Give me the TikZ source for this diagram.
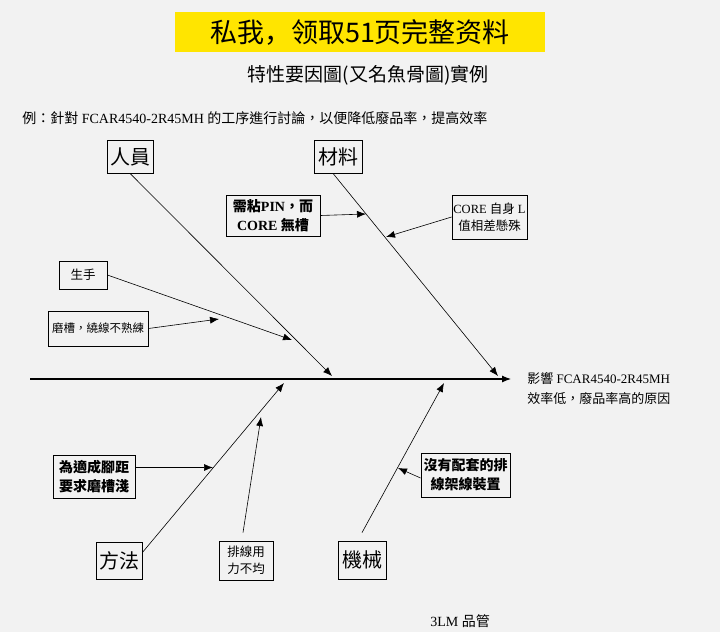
\documentclass[tikz,border=0pt]{standalone}
\usepackage{fontspec}
\setmainfont{Liberation Serif}
\newfontfamily\zh{Noto Sans CJK TC}
\newfontfamily\zhs{Noto Sans CJK SC}
\usepackage{tikz}
\usetikzlibrary{arrows.meta}
\definecolor{paper}{RGB}{242,242,242}
\definecolor{banner}{RGB}{255,229,0}

\begin{document}
\begin{tikzpicture}[x=1pt,y=-1pt,line width=0.6pt,
  bone/.style={-{Latex[length=9pt,width=7pt]}},
  catbox/.style={draw,line width=0.8pt,inner sep=0pt,font=\zh\fontsize{20}{22}\selectfont},
  causebox/.style={draw,line width=0.8pt,inner sep=0pt,align=center,font=\zh\fontsize{12.5}{17}\selectfont},
  boldbox/.style={causebox,font=\bfseries\fontsize{14}{19}\selectfont}]

\fill[paper] (0,0) rectangle (720,632);
\useasboundingbox (0,0) rectangle (720,632);

\node[fill=banner,minimum width=370pt,minimum height=40pt,font=\zhs\fontsize{27}{30}\selectfont] (ad) at (360,32) {私我，领取51页完整资料};
\node[font=\zh\fontsize{19}{22}\selectfont] (title) at (368,75) {特性要因圖(又名魚骨圖)實例};
\node[anchor=west,inner sep=0pt,font=\fontsize{14}{16}\selectfont] (task) at (22,118) {{\zh 例：針對} FCAR4540-2R45MH {\zh 的工序進行討論，以便降低廢品率，提高效率}};

%spine
\coordinate (tail) at (30,379);
\coordinate (head) at (511,379);
\draw[bone,line width=1.1pt] (tail) -- (head);
\node[anchor=west,align=left,inner sep=0pt,font=\fontsize{13}{20}\selectfont] (eff) at (527,389) {{\zh 影響} FCAR4540-2R45MH\\{\zh 效率低，廢品率高的原因}};

%categories
\node[catbox,minimum width=46pt,minimum height=33pt] (ry) at (130,156.5) {人員};
\node[catbox,minimum width=48pt,minimum height=33pt] (cl) at (338,156.5) {材料};
\node[catbox,minimum width=46pt,minimum height=37pt] (ff) at (119,560.5) {方法};
\node[catbox,minimum width=48pt,minimum height=38pt] (jx) at (362,560) {機械};

\coordinate (ryend) at (332,376);
\coordinate (clend) at (498,376);
\coordinate (ffend) at (284,383);
\coordinate (jxend) at (444,383);
\draw[bone] (ry.south) -- (ryend);
\draw[bone] ([xshift=-5pt]cl.south) -- (clend);
\draw[bone] ([yshift=8pt]ff.east) -- (ffend);
\draw[bone] ([yshift=8pt]jx.north) -- (jxend);

%causes
\node[boldbox,minimum width=94pt,minimum height=41pt] (need) at (273,215.5) {{\zh 需粘}PIN{\zh ，而}\\CORE {\zh 無槽}};
\node[causebox,minimum width=75pt,minimum height=44pt,font=\fontsize{12.5}{17}\selectfont] (core) at (489.5,217) {CORE {\zh 自身} L\\{\zh 值相差懸殊}};
\node[causebox,minimum width=48pt,minimum height=28pt] (ss) at (83,275) {生手};
\node[causebox,minimum width=100pt,minimum height=35pt,font=\zh\fontsize{11.5}{15}\selectfont] (mc) at (98,328.5) {磨槽，繞線不熟練};
\node[boldbox,minimum width=82pt,minimum height=43pt,font=\zh\bfseries\fontsize{14}{19}\selectfont] (ws) at (94,476.5) {為適成腳距\\要求磨槽淺};
\node[causebox,minimum width=54pt,minimum height=39pt] (px) at (246,560.5) {排線用\\力不均};
\node[boldbox,minimum width=89pt,minimum height=44pt,font=\zh\bfseries\fontsize{14}{19}\selectfont] (my) at (465.5,475) {沒有配套的排\\線架線裝置};

\coordinate (needend) at (366,214);
\coordinate (coreend) at (386,237);
\coordinate (ssend) at (292,340);
\coordinate (mcend) at (219,319);
\coordinate (wsend) at (213,467.5);
\coordinate (pxend) at (261,417);
\coordinate (myend) at (398,468);
\draw[bone] (need.east) -- (needend);
\draw[bone] (core.west) -- (coreend);
\draw[bone] (ss.east) -- (ssend);
\draw[bone] (mc.east) -- (mcend);
\draw[bone] ([yshift=9pt]ws.east) -- (wsend);
\draw[bone] ([xshift=-3pt,yshift=8pt]px.north) -- (pxend);
\draw[bone] ([yshift=-3pt]my.west) -- (myend);

\node[anchor=west,inner sep=0pt,font=\fontsize{14}{16}\selectfont] (qc) at (430,621) {3LM {\zh 品管}};

\end{tikzpicture}
\end{document}
